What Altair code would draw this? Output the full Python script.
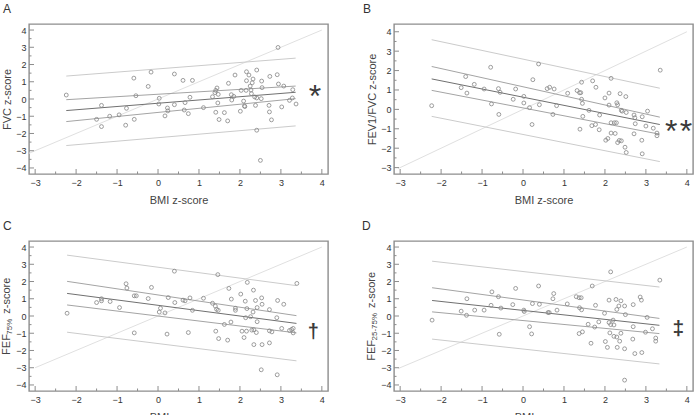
import altair as alt
import pandas as pd

FONT = "Liberation Sans"
W, H = 299, 150
FRAME = "#8d8d8d"

# ---------------- axes ----------------
X_DOMAIN = [-3.15, 4.15]
X_MAJOR = [-3, -2, -1, 0, 1, 2, 3, 4]
X_MINOR = [-2.5, -1.5, -0.5, 0.5, 1.5, 2.5, 3.5]
Y_DOMAIN_8 = [-4.35, 4.35]
Y_DOMAIN_B = [-3.33, 4.4]
Y_MAJOR_8 = [-4, -3, -2, -1, 0, 1, 2, 3, 4]
Y_MINOR_8 = [-3.5, -2.5, -1.5, -0.5, 0.5, 1.5, 2.5, 3.5]
Y_MAJOR_B = [-3, -2, -1, 0, 1, 2, 3, 4]
Y_MINOR_B = [-2.5, -1.5, -0.5, 0.5, 1.5, 2.5, 3.5]

# ---------------- panel A: FVC ----------------
A_pts = [
    (-2.24, 0.23), (-1.50, -1.18), (-1.38, -0.37), (-1.38, -1.60), (-1.18, -1.00),
    (-0.95, -0.92), (-0.77, -0.54), (-0.79, -1.52), (-0.59, 1.21), (-0.58, -1.18),
    (-0.54, 0.19), (-0.24, 0.73), (-0.17, 1.56), (0.03, 0.04), (0.02, -0.29),
    (0.17, -0.98), (0.23, -0.52), (0.24, -0.69), (0.40, 1.45), (0.40, -0.33),
    (0.61, 1.08), (0.64, -0.64), (0.66, -0.21), (0.74, -0.85), (0.78, 0.10),
    (0.84, 1.08), (1.11, -0.50), (1.33, 0.13), (1.39, 0.37), (1.41, 0.50),
    (1.44, 0.64), (1.41, -0.77), (1.46, -0.23), (1.47, 0.27), (1.49, -1.19),
    (1.62, -0.79), (1.70, -1.27), (1.72, 0.91), (1.79, 0.25), (1.80, -0.06),
    (1.85, 0.15), (1.88, 1.39), (2.01, -0.71), (2.03, 0.50), (2.09, -0.12),
    (2.11, -0.40), (2.12, -0.44), (2.15, 0.50), (2.16, 1.06), (2.16, 1.58),
    (2.22, 1.39), (2.25, 0.75), (2.27, 0.52), (2.28, 0.31), (2.30, 0.94),
    (2.32, 1.16), (2.36, 0.12), (2.38, -0.37), (2.41, 0.06), (2.41, 1.68),
    (2.41, -1.81), (2.52, 0.02), (2.50, -3.56), (2.53, 1.04), (2.54, 0.66),
    (2.71, -0.37), (2.72, -0.75), (2.73, 1.31), (2.77, -1.21), (2.91, 1.41),
    (2.93, 2.99), (2.94, 0.87), (3.02, -0.46), (3.07, 0.75), (3.21, -0.08),
    (3.28, 0.06), (3.29, 0.54), (3.37, -0.29),
]
A_line_x = [-2.24, 3.36]
A_reg = [-0.67, 0.39]
A_ci_hi = [-0.04, 0.75]
A_ci_lo = [-1.31, 0.02]
A_pi_hi = [1.33, 2.37]
A_pi_lo = [-2.70, -1.56]
A_identity = [-3.15, 4.0]
A_note_x = [3.83]
A_note_y = [0.39]
A_note_t = ["*"]

# ---------------- panel B: FEV1/FVC ----------------
B_pts = [
    (-2.23, 0.19), (-1.51, 1.12), (-1.40, 1.69), (-1.37, 0.84), (-1.19, 1.29),
    (-0.95, 1.05), (-0.79, 2.17), (-0.77, 0.28), (-0.60, 1.07), (-0.59, -0.26),
    (-0.56, 0.88), (-0.24, 0.52), (-0.18, 1.05), (0.02, 0.67), (0.02, 0.33),
    (0.16, 0.09), (0.22, -0.78), (0.24, 1.53), (0.38, 2.34), (0.40, 0.24),
    (0.59, 1.07), (0.65, 1.14), (0.76, 1.05), (0.73, -0.26), (0.82, 0.19),
    (1.09, 0.83), (1.32, 0.97), (1.38, 0.86), (1.41, 0.86), (1.43, 1.40),
    (1.43, 0.52), (1.45, 0.31), (1.39, -1.02), (1.46, -0.36), (1.70, 1.47),
    (1.68, -0.84), (1.77, -0.78), (1.78, 1.14), (1.61, -0.05), (1.86, -1.05),
    (1.87, -0.29), (2.00, 0.59), (2.02, -1.59), (2.07, -1.50), (2.10, 0.84),
    (2.10, 0.22), (2.15, 1.60), (2.15, -1.22), (2.15, -0.69), (2.23, -0.69),
    (2.25, -1.24), (2.28, -0.69), (2.29, 0.34), (2.31, 0.24), (2.31, -1.71),
    (2.35, -1.60), (2.37, 0.81), (2.40, -1.62), (2.40, -0.05), (2.42, -0.09),
    (2.51, 0.66), (2.52, -0.16), (2.49, -1.95), (2.52, -2.22), (2.71, -0.29),
    (2.73, -0.43), (2.71, -1.26), (2.74, -0.74), (2.91, -0.38), (2.90, -1.59),
    (2.91, -2.29), (3.00, -0.86), (3.04, -0.09), (3.18, -0.97), (3.27, -1.22),
    (3.27, -1.36), (3.35, 2.02),
]
B_line_x = [-2.23, 3.34]
B_reg = [1.57, -0.78]
B_ci_hi = [2.21, -0.40]
B_ci_lo = [0.98, -1.28]
B_pi_hi = [3.59, 1.09]
B_pi_lo = [-0.36, -2.69]
B_identity = [-3.05, 4.0]
B_note_x = [3.62, 3.98]
B_note_y = [-0.90, -0.90]
B_note_t = ["*", "*"]

# ---------------- panel C: FEF75% ----------------
C_pts = [
    (-2.22, 0.16), (-1.50, 0.78), (-1.38, 1.00), (-1.38, 0.88), (-1.17, 0.84),
    (-0.94, 0.49), (-0.78, 1.87), (-0.76, 1.62), (-0.58, 1.17), (-0.53, 1.17),
    (-0.58, -0.98), (-0.24, 1.01), (-0.16, 1.66), (0.03, 0.23), (0.06, 0.45),
    (0.17, 0.18), (0.22, -1.05), (0.25, 1.07), (0.40, 2.60), (0.41, 0.78),
    (0.61, 0.92), (0.66, 0.88), (0.78, 1.05), (0.74, -0.96), (0.84, 0.33),
    (1.11, 1.03), (1.33, 0.74), (1.40, 0.57), (1.41, -0.88), (1.43, 0.39),
    (1.46, 2.40), (1.47, 0.33), (1.48, -1.31), (1.62, -0.49), (1.70, -1.40),
    (1.73, 1.60), (1.78, -0.35), (1.79, 0.98), (1.89, 0.33), (1.89, 0.45),
    (2.02, 1.27), (2.05, -0.88), (2.10, -1.25), (2.13, 0.86), (2.14, -0.10),
    (2.16, -0.88), (2.18, 1.95), (2.17, 0.43), (2.26, -0.04), (2.29, -0.82),
    (2.32, 0.23), (2.33, 1.50), (2.34, -0.80), (2.34, -1.66), (2.38, 0.90),
    (2.40, -0.96), (2.42, 0.49), (2.42, -0.33), (2.52, -3.12), (2.53, 1.05),
    (2.54, -1.66), (2.54, 0.68), (2.72, 0.37), (2.72, -0.86), (2.72, -1.56),
    (2.78, -0.92), (2.92, 0.90), (2.90, -0.10), (2.91, -3.41), (3.02, -0.72),
    (3.07, 0.68), (3.21, -0.84), (3.26, -0.78), (3.30, -0.98), (3.30, -0.72),
    (3.39, 1.89),
]
C_line_x = [-2.22, 3.38]
C_reg = [1.31, -0.43]
C_ci_hi = [2.01, 0.02]
C_ci_lo = [0.64, -0.98]
C_pi_hi = [3.53, 1.76]
C_pi_lo = [-0.94, -2.60]
C_identity = [-3.0, 4.0]
C_note_x = [3.79]
C_note_y = [-0.72]
C_note_t = ["\u2020"]

# ---------------- panel D: FEF25-75% ----------------
D_pts = [
    (-2.22, -0.24), (-1.51, 0.28), (-1.38, 0.04), (-1.37, 1.00), (-1.18, 0.34),
    (-0.95, 0.34), (-0.76, 1.40), (-0.78, 0.62), (-0.60, 1.12), (-0.58, -1.06),
    (-0.54, 0.46), (-0.25, 0.66), (-0.18, 1.60), (0.03, 0.26), (0.02, 0.34),
    (0.16, -0.62), (0.21, -1.04), (0.23, 0.72), (0.38, 1.74), (0.40, 0.68),
    (0.61, 0.20), (0.64, 0.20), (0.73, 1.00), (0.75, 1.30), (0.83, 0.34),
    (1.08, 0.70), (1.30, 1.12), (1.37, 1.06), (1.42, 1.06), (1.38, 0.48),
    (1.43, 0.36), (1.37, -1.02), (1.45, -0.92), (1.59, -0.48), (1.66, -1.58),
    (1.69, 1.74), (1.75, -0.64), (1.77, 0.62), (1.85, -0.34), (1.99, 0.16),
    (2.01, -1.48), (2.06, -1.82), (2.10, 0.92), (2.10, -0.38), (2.12, -0.98),
    (2.14, -0.50), (2.14, 2.56), (2.20, -0.24), (2.22, -0.52), (2.22, -1.18),
    (2.27, 0.96), (2.29, 0.38), (2.29, -1.22), (2.30, -1.82), (2.34, 0.58),
    (2.36, -1.46), (2.39, 0.88), (2.39, -1.00), (2.48, 0.58), (2.50, 0.08),
    (2.48, -1.90), (2.48, -3.72), (2.69, 0.66), (2.68, -1.34), (2.69, -0.62),
    (2.73, -2.18), (2.86, 1.10), (2.89, 0.92), (2.90, -2.12), (2.99, -0.94),
    (3.03, -0.08), (3.16, -0.74), (3.24, -1.28), (3.24, -1.46), (3.34, 2.08),
]
D_line_x = [-2.22, 3.33]
D_reg = [0.90, -0.54]
D_ci_hi = [1.64, -0.14]
D_ci_lo = [0.24, -1.02]
D_pi_hi = [3.18, 1.68]
D_pi_lo = [-1.34, -2.78]
D_identity = [-3.04, 4.0]
D_note_x = [3.79]
D_note_y = [-0.68]
D_note_t = ["\u2021"]

KINDS = ["id", "pi", "ci", "reg"]
KIND_COLORS = ["#e0e0e0", "#cbcbcb", "#a4a4a4", "#707070"]
KIND_WIDTHS = [1.0, 1.0, 1.0, 1.6]


def lines_df(line_x, reg, ci_hi, ci_lo, pi_hi, pi_lo, ident):
    rows = []
    for v in ident:
        rows.append({"x": v, "y": v, "kind": "id", "line": "identity"})
    for name, kind, ys in [("pi_hi", "pi", pi_hi), ("pi_lo", "pi", pi_lo),
                           ("ci_hi", "ci", ci_hi), ("ci_lo", "ci", ci_lo),
                           ("reg", "reg", reg)]:
        for xv, yv in zip(line_x, ys):
            rows.append({"x": xv, "y": yv, "kind": kind, "line": name})
    return pd.DataFrame(rows)


def one():
    return pd.DataFrame({"k": [0]})


def panel(letter, letter_dx, pts, lines, ydom, ymaj, ymin, ytitle, notes, note_style, title_parts):
    xs = alt.Scale(domain=X_DOMAIN, nice=False, zero=False)
    ys = alt.Scale(domain=ydom, nice=False, zero=False)
    xax = alt.Axis(values=X_MAJOR, title="BMI z-score")
    yax = alt.Axis(values=ymaj, title=ytitle)

    def X(f):
        return alt.X(f, scale=xs, axis=xax)

    def Y(f):
        return alt.Y(f, scale=ys, axis=yax)

    pdf = pd.DataFrame(pts, columns=["x", "y"])

    line_layer = alt.Chart(lines).mark_line(clip=True).encode(
        x=X("x:Q"), y=Y("y:Q"),
        color=alt.Color("kind:N", scale=alt.Scale(domain=KINDS, range=KIND_COLORS), legend=None),
        strokeWidth=alt.StrokeWidth("kind:N", scale=alt.Scale(domain=KINDS, range=KIND_WIDTHS), legend=None),
        detail="line:N",
    )

    xt_major = alt.Chart(pd.DataFrame({"x": X_MAJOR})).mark_rule(color=FRAME, strokeWidth=1).encode(
        x=X("x:Q"), y=alt.value(H), y2=alt.value(H - 5))
    xt_minor = alt.Chart(pd.DataFrame({"x": X_MINOR})).mark_rule(color=FRAME, strokeWidth=1).encode(
        x=X("x:Q"), y=alt.value(H), y2=alt.value(H - 2.5))
    yt_major = alt.Chart(pd.DataFrame({"y": ymaj})).mark_rule(color=FRAME, strokeWidth=1).encode(
        y=Y("y:Q"), x=alt.value(0), x2=alt.value(5))
    yt_minor = alt.Chart(pd.DataFrame({"y": ymin})).mark_rule(color=FRAME, strokeWidth=1).encode(
        y=Y("y:Q"), x=alt.value(0), x2=alt.value(2.5))

    point_layer = alt.Chart(pdf).mark_point(
        shape="circle", filled=False, size=15, strokeWidth=0.8, color="#858585", opacity=1
    ).encode(x=X("x:Q"), y=Y("y:Q"))

    nx, ny, nt = notes
    ndf = pd.DataFrame({"x": nx, "y": ny, "t": nt})
    note_layer = alt.Chart(ndf).mark_text(font=FONT, baseline="alphabetic", color="#3a3a3a", **note_style).encode(
        x=X("x:Q"), y=Y("y:Q"), text="t:N",
    )

    letter_layer = alt.Chart(one()).mark_text(
        font=FONT, fontSize=12, align="left", baseline="top", color="#333"
    ).encode(x=alt.value(letter_dx), y=alt.value(-20), text=alt.value(letter))

    layers = [line_layer, xt_major, xt_minor, yt_major, yt_minor, point_layer, note_layer, letter_layer]
    for txt, fs, px, py in title_parts:
        layers.append(
            alt.Chart(one()).mark_text(font=FONT, fontSize=fs, angle=270, align="center",
                                       baseline="middle", color="#444").encode(
                x=alt.value(px), y=alt.value(py), text=alt.value(txt))
        )

    return alt.layer(*layers).properties(width=W, height=H)


ASTERISK = {"fontSize": 32, "dy": 15}
DAGGER = {"fontSize": 20, "dy": 10, "fontWeight": "bold"}
DDAGGER = {"fontSize": 21, "dy": 7, "fontWeight": "bold"}

C_title = [("FEF", 11, -22, 103.5), ("75%", 8, -19, 85.7), ("z-score", 11, -22, 54.7)]
D_title = [("FEF", 11, -22, 109.3), ("25-75%", 8, -19, 85.7), ("z-score", 11, -22, 48.9)]

pA = panel("A", -26, A_pts, lines_df(A_line_x, A_reg, A_ci_hi, A_ci_lo, A_pi_hi, A_pi_lo, A_identity),
           Y_DOMAIN_8, Y_MAJOR_8, Y_MINOR_8, "FVC z-score", (A_note_x, A_note_y, A_note_t), ASTERISK, [])
pB = panel("B", -31, B_pts, lines_df(B_line_x, B_reg, B_ci_hi, B_ci_lo, B_pi_hi, B_pi_lo, B_identity),
           Y_DOMAIN_B, Y_MAJOR_B, Y_MINOR_B, "FEV1/FVC z-score", (B_note_x, B_note_y, B_note_t), ASTERISK, [])
pC = panel("C", -26, C_pts, lines_df(C_line_x, C_reg, C_ci_hi, C_ci_lo, C_pi_hi, C_pi_lo, C_identity),
           Y_DOMAIN_8, Y_MAJOR_8, Y_MINOR_8, "", (C_note_x, C_note_y, C_note_t), DAGGER, C_title)
pD = panel("D", -32, D_pts, lines_df(D_line_x, D_reg, D_ci_hi, D_ci_lo, D_pi_hi, D_pi_lo, D_identity),
           Y_DOMAIN_8, Y_MAJOR_8, Y_MINOR_8, "", (D_note_x, D_note_y, D_note_t), DDAGGER, D_title)

chart = alt.concat(
    pA, pB, pC, pD, columns=2, spacing={"row": 67, "column": 66}, bounds="flush",
    padding={"left": 0, "top": 2, "right": 0, "bottom": 0},
).configure_view(
    stroke=FRAME, strokeWidth=1.4
).configure_axis(
    domain=False, ticks=False, tickSize=0, grid=False,
    labelFont=FONT, labelFontSize=9, labelColor="#333",
    titleFont=FONT, titleFontSize=11, titleFontWeight="normal", titleColor="#444",
).configure_axisX(
    labelPadding=4, titlePadding=7
).configure_axisY(
    labelPadding=3, titlePadding=3
)

chart.save("out.html", embed_options={"renderer": "svg", "actions": False})
